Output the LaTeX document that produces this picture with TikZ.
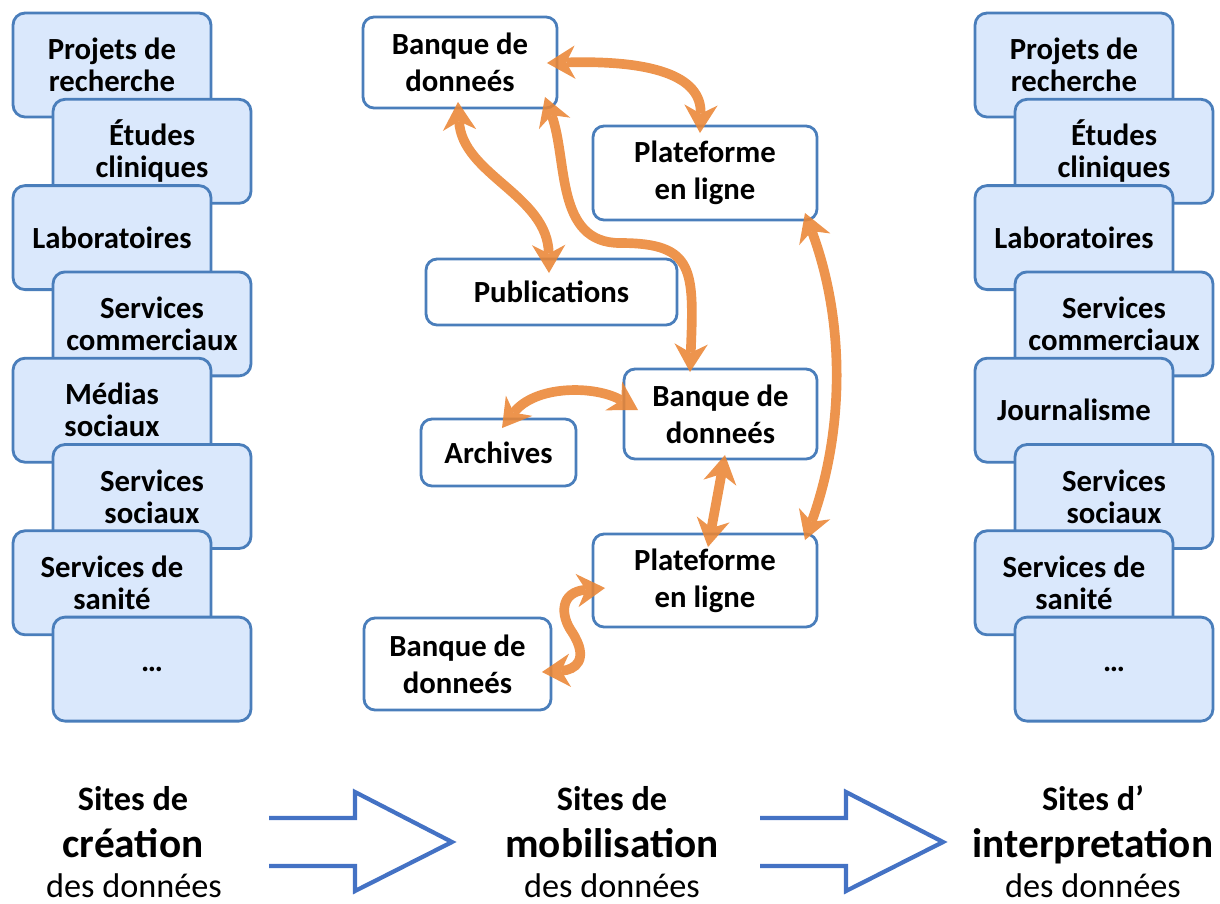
\documentclass[tikz,border=0pt]{standalone}
\usepackage{fontspec}
\setmainfont{Carlito}
\usetikzlibrary{arrows.meta,calc}

\definecolor{boxblue}{RGB}{74,126,187}
\definecolor{boxfill}{RGB}{218,232,252}
\definecolor{flowblue}{RGB}{68,114,196}
\definecolor{linkorange}{RGB}{234,133,52}

\tikzset{
  sitebox/.style={draw=boxblue, line width=1.6pt, fill=boxfill, rounded corners=0.24cm,
    minimum width=3.96cm, minimum height=2.08cm, outer sep=0pt, align=center,
    font=\fontsize{17.5}{18.2}\selectfont\bfseries},
  dbbox/.style={draw=boxblue, line width=1.6pt, fill=white, rounded corners=0.22cm,
    outer sep=0pt, align=center, font=\fontsize{17.5}{21}\selectfont\bfseries},
  link/.style={draw=linkorange, line width=5.5pt,
    {Stealth[length=16pt,width=19pt,inset=5pt,line width=0pt]}-{Stealth[length=16pt,width=19pt,inset=5pt,line width=0pt]}},
  flow/.style={draw=flowblue, line width=2.4pt},
  labsmall/.style={anchor=base, inner sep=0pt, font=\fontsize{19.5}{20}\selectfont\bfseries},
  labbig/.style={anchor=base, inner sep=0pt, font=\fontsize{23.5}{24}\selectfont\bfseries},
  labthin/.style={anchor=base, inner sep=0pt, font=\fontsize{19.5}{20}\selectfont},
}

\begin{document}
\begin{tikzpicture}[x=0.02cm, y=-0.02cm]

  \useasboundingbox (0,0) rectangle (1220,903);

  % colonne de gauche
  \foreach \txt [count=\i] in {{Projets de\\recherche}, {Études\\cliniques}, Laboratoires,
      {Services\\commerciaux}, {Médias\\sociaux}, {Services\\sociaux}, {Services de\\sanité}, …} {
    \pgfmathsetmacro{\bx}{112+40*(1-mod(\i,2))}
    \pgfmathsetmacro{\by}{65+86.3*(\i-1)}
    \node[sitebox] (l\i) at (\bx,\by) {\txt};
  }

  % colonne de droite
  \foreach \txt [count=\i] in {{Projets de\\recherche}, {Études\\cliniques}, Laboratoires,
      {Services\\commerciaux}, Journalisme, {Services\\sociaux}, {Services de\\sanité}, …} {
    \pgfmathsetmacro{\bx}{1074+40*(1-mod(\i,2))}
    \pgfmathsetmacro{\by}{65+86.3*(\i-1)}
    \node[sitebox] (r\i) at (\bx,\by) {\txt};
  }

  % sites de mobilisation
  \node[dbbox, minimum width=3.88cm, minimum height=1.82cm] (bdA) at (460,62.5) {Banque de\\donneés};
  \node[dbbox, minimum width=4.48cm, minimum height=1.88cm] (plA) at (705,173) {Plateforme\\en ligne};
  \node[dbbox, minimum width=5.02cm, minimum height=1.32cm] (pub) at (551.5,292) {Publications};
  \node[dbbox, minimum width=3.86cm, minimum height=1.80cm] (bdB) at (720.5,414) {Banque de\\donneés};
  \node[dbbox, minimum width=3.10cm, minimum height=1.34cm] (arch) at (498.5,452.5) {Archives};
  \node[dbbox, minimum width=4.48cm, minimum height=1.86cm] (plB) at (705,580.5) {Plateforme\\en ligne};
  \node[dbbox, minimum width=3.74cm, minimum height=1.84cm] (bdC) at (457.5,664) {Banque de\\donneés};

  % liens
  \begin{scope}[transparency group, opacity=0.88]
  \draw[link] ($(bdA.east)+(-10,0.5)$) .. controls (650,60) and (702,75) .. ($(plA.north)+(-5,7)$);
  \draw[link] ($(bdA.south)+(-2,-6)$) .. controls (462,175) and (548,195) .. ($(pub.north)+(-2.5,14)$);
  \draw[link] ($(bdA.south east)+(-12,-11)$) .. controls (568,160) and (555,243) .. (620,243)
    .. controls (695,243) and (694,270) .. ($(bdB.north)+(-30.5,3)$);
  \draw[link] ($(plA.south east)+(-12,-7)$) .. controls (845,320) and (845,430) .. ($(plB.north east)+(-12,6)$);
  \draw[link] ($(arch.north)+(3.5,9)$) .. controls (535,385) and (595,385) .. ($(bdB.west)+(14,-4)$);
  \draw[link] ($(bdB.south)+(4.5,-4)$) -- ($(plB.north)+(3,13)$);
  \draw[link] ($(plB.west)+(12,7.5)$) .. controls (560,592) and (560,615) .. (572,632)
    .. controls (590,660) and (575,670) .. ($(bdC.east)+(-9,8)$);
  \end{scope}

  % grandes flèches
  \foreach \dx in {0,491} {
    \draw[flow] (269+\dx,818) -- (355+\dx,818) -- (355+\dx,792) -- (452+\dx,842)
      -- (355+\dx,891) -- (355+\dx,866) -- (269+\dx,866);
  }

  % légendes
  \node[labsmall] (tA1) at (133,810) {Sites de};
  \node[labbig]   (tA2) at (133,857) {création};
  \node[labthin]  (tA3) at (134,897) {des données};

  \node[labsmall] (tB1) at (612,810) {Sites de};
  \node[labbig]   (tB2) at (612,857) {mobilisation};
  \node[labthin]  (tB3) at (612,897) {des données};

  \node[labsmall] (tC1) at (1093,810) {Sites d’};
  \node[labbig]   (tC2) at (1093,857) {interpretation};
  \node[labthin]  (tC3) at (1093,897) {des données};

\end{tikzpicture}
\end{document}
